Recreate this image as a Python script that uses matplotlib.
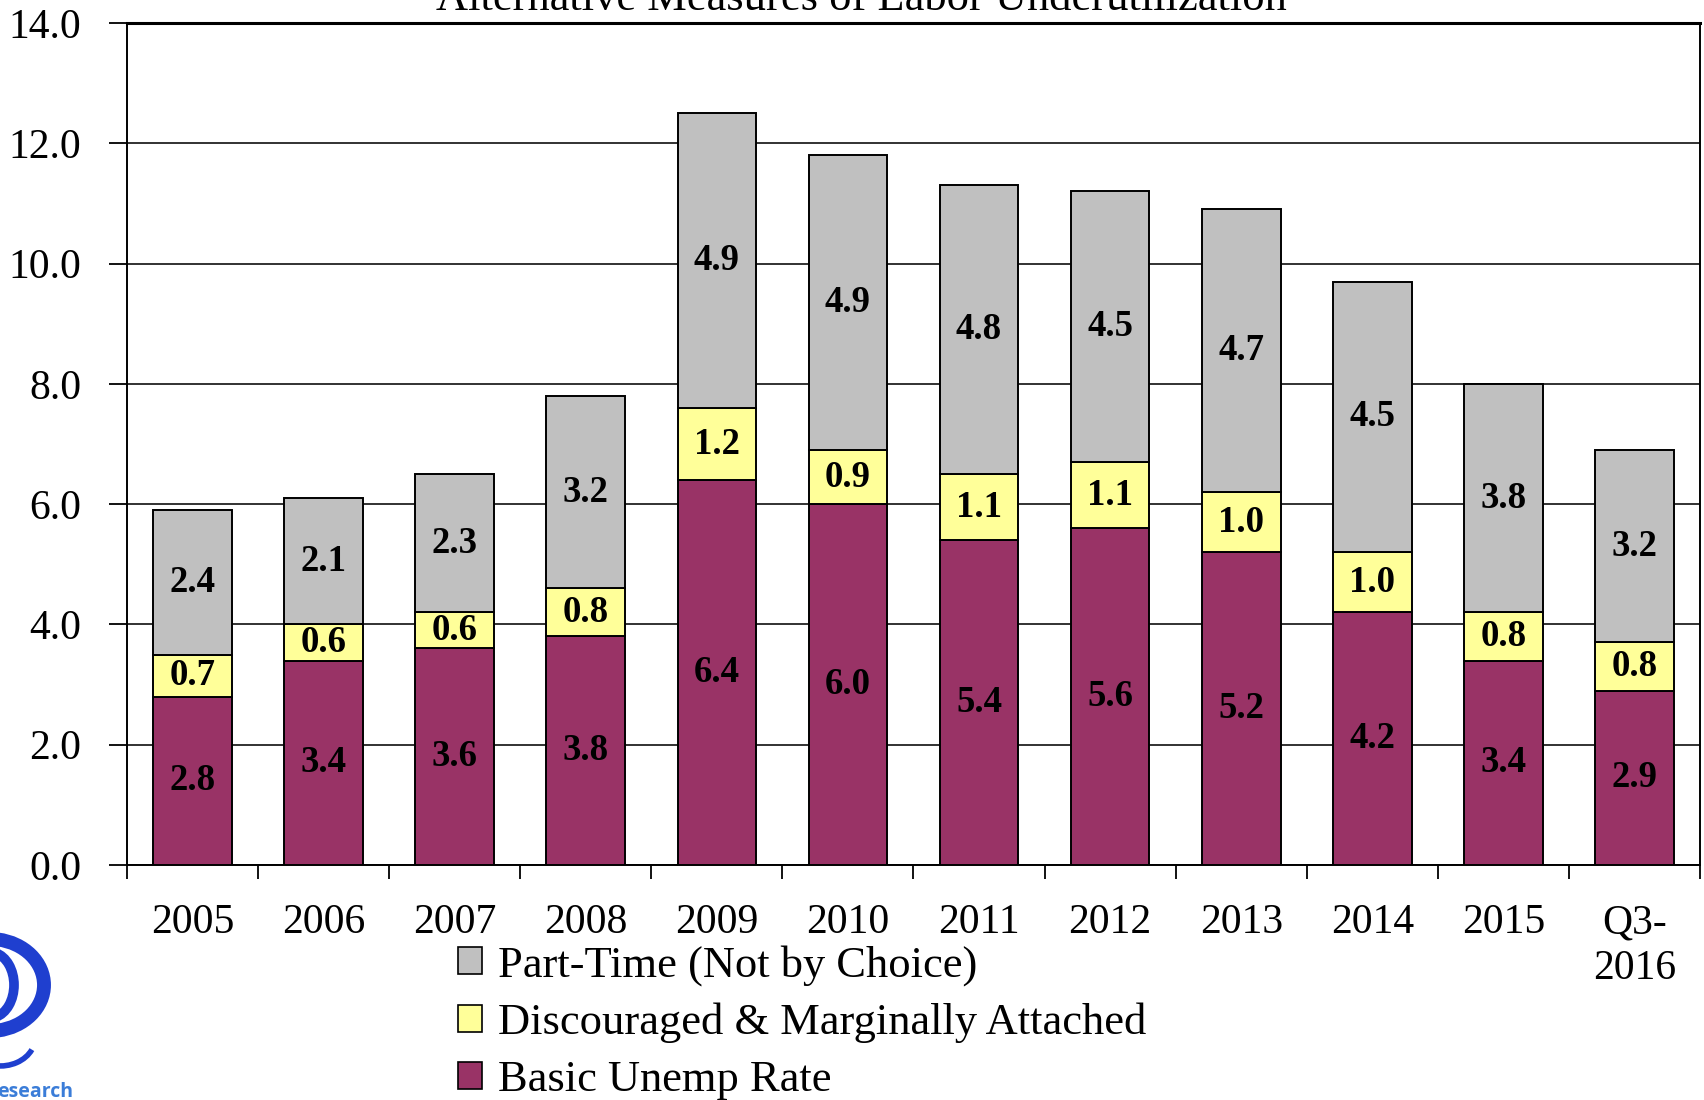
import matplotlib
matplotlib.use("Agg")
import matplotlib.pyplot as plt
import numpy as np
from matplotlib.patches import Patch, Arc

plt.rcParams['font.family'] = ['Liberation Serif', 'DejaVu Serif']

categories = ['2005', '2006', '2007', '2008', '2009', '2010', '2011', '2012',
              '2013', '2014', '2015', 'Q3-\n2016']
basic = [2.8, 3.4, 3.6, 3.8, 6.4, 6.0, 5.4, 5.6, 5.2, 4.2, 3.4, 2.9]
discouraged = [0.7, 0.6, 0.6, 0.8, 1.2, 0.9, 1.1, 1.1, 1.0, 1.0, 0.8, 0.8]
parttime = [2.4, 2.1, 2.3, 3.2, 4.9, 4.9, 4.8, 4.5, 4.7, 4.5, 3.8, 3.2]
yticks = [0.0, 2.0, 4.0, 6.0, 8.0, 10.0, 12.0, 14.0]

title = 'Alternative Measures of Labor Underutilization'
series_labels = ['Basic Unemp Rate', 'Discouraged & Marginally Attached',
                 'Part-Time (Not by Choice)']
colors = ['#993366', '#FFFF99', '#C0C0C0']

W, H = 1704, 1100
fig = plt.figure(figsize=(W / 100, H / 100), dpi=100)
ax = fig.add_axes([127 / W, 1 - 865 / H, (1700 - 127) / W, (865 - 23) / H])

x = np.arange(len(categories))
b = np.array(basic)
d = np.array(discouraged)
p = np.array(parttime)

kw = dict(width=0.6, edgecolor='black', linewidth=1.4, zorder=3)
r1 = ax.bar(x, b, color=colors[0], **kw)
r2 = ax.bar(x, d, bottom=b, color=colors[1], **kw)
r3 = ax.bar(x, p, bottom=b + d, color=colors[2], **kw)

for r in (r1, r2, r3):
    ax.bar_label(r, fmt='%.1f', label_type='center', fontsize=26.5,
                 fontweight='bold', color='black', zorder=4)

ax.set_xlim(-0.5, len(categories) - 0.5)
ax.set_ylim(0, 14)
ax.set_yticks(yticks)
ax.set_yticklabels([f'{v:.1f}' for v in yticks], fontsize=30)
ax.grid(axis='y', color='#222222', linewidth=1.3, zorder=1)
ax.set_axisbelow(True)

# x ticks at boundaries (marks), labels at centres
ax.set_xticks(np.arange(len(categories) + 1) - 0.5)
ax.set_xticklabels([])
ax.set_xticks(x, minor=True)
ax.set_xticklabels(categories, minor=True, fontsize=30, linespacing=1.25)
ax.tick_params(axis='x', which='major', direction='out', length=10, width=1.3)
ax.tick_params(axis='x', which='minor', length=0, pad=28)
ax.tick_params(axis='y', direction='out', length=13, width=1.3, pad=20)

for s in ax.spines.values():
    s.set_linewidth(1.4)
    s.set_color('black')
ax.spines['top'].set_linewidth(2.2)

fig.text(861 / W, 1 - 10 / H, title, ha='center', va='baseline', fontsize=32)

handles = [Patch(facecolor=colors[2], edgecolor='black', linewidth=1.2),
           Patch(facecolor=colors[1], edgecolor='black', linewidth=1.2),
           Patch(facecolor=colors[0], edgecolor='black', linewidth=1.2)]
fig.legend(handles, [series_labels[2], series_labels[1], series_labels[0]],
           loc='upper left', bbox_to_anchor=(458 / W, 1 - 945 / H),
           frameon=False, fontsize=32, handlelength=0.55, handleheight=0.55,
           handletextpad=0.35, labelspacing=0.38, borderpad=0, borderaxespad=0)

# partial logo in the bottom-left corner
lax = fig.add_axes([0, 0, 80 / W, 190 / H])
lax.set_xlim(0, 80)
lax.set_ylim(190, 0)
lax.axis('off')
lax.add_patch(Arc((-10, 75), 108, 92, theta1=-80, theta2=80, color='#1f3fcf', lw=10))
lax.add_patch(Arc((-10, 75), 48, 66, theta1=-80, theta2=80, color='#1f3fcf', lw=7))
lax.add_patch(Arc((0, 128), 70, 56, theta1=20, theta2=100, color='#1f3fcf', lw=4))
lax.text(-3, 187, 'esearch', color='#3b7dd8', fontsize=14, fontweight='bold',
         family='Open Sans', ha='left', va='baseline', stretch='condensed')

fig.savefig('out.png', dpi=100)
